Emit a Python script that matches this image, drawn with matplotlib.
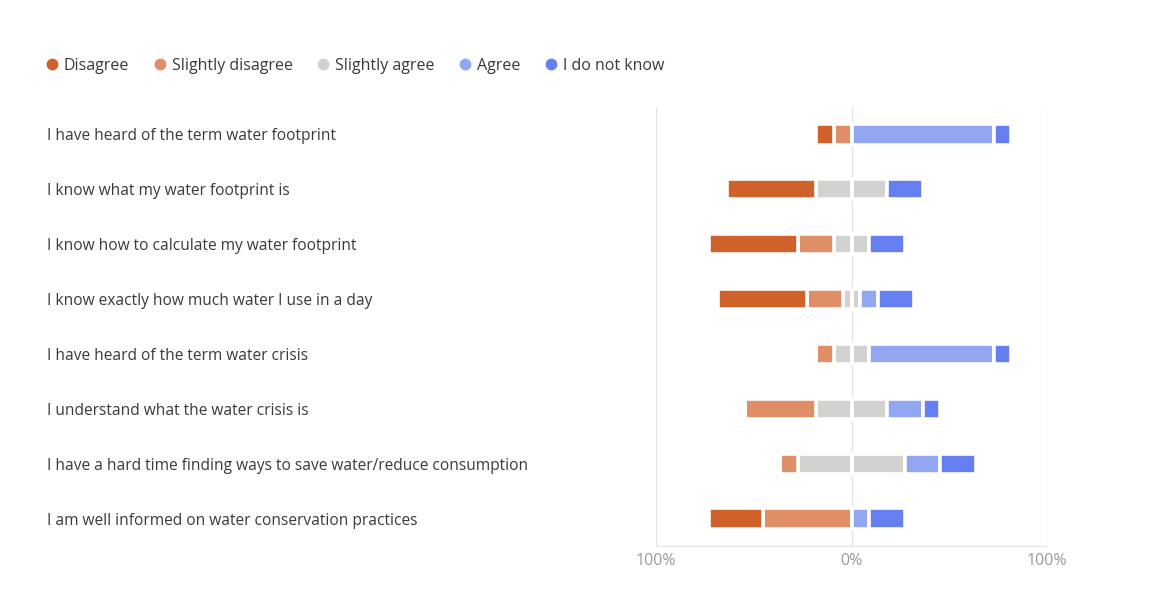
import matplotlib
matplotlib.use("Agg")
import matplotlib.pyplot as plt
from matplotlib.lines import Line2D
import numpy as np

plt.rcParams["font.family"] = ["Open Sans", "DejaVu Sans"]

# survey answers, counts per statement (11 respondents)
statements = [
    "I have heard of the term water footprint",
    "I know what my water footprint is",
    "I know how to calculate my water footprint",
    "I know exactly how much water I use in a day",
    "I have heard of the term water crisis",
    "I understand what the water crisis is",
    "I have a hard time finding ways to save water/reduce consumption",
    "I am well informed on water conservation practices",
]
disagree = [1, 5, 5, 5, 0, 0, 0, 3]
slightly_disagree = [1, 0, 2, 2, 1, 4, 1, 5]
slightly_agree = [0, 4, 2, 1, 2, 4, 6, 0]
agree = [8, 0, 0, 1, 7, 2, 2, 1]
do_not_know = [1, 2, 2, 2, 1, 1, 2, 2]
respondents = 11

series_names = ["Disagree", "Slightly disagree", "Slightly agree", "Agree", "I do not know"]
colors = ["#D0612A", "#E08E66", "#D2D2D0", "#92A6F2", "#657FF0"]

tick_vals = [-100, 0, 100]
tick_labels = ["100%", "0%", "100%"]

W, H = 1172, 603
fig = plt.figure(figsize=(W / 100, H / 100), dpi=100)
ax = fig.add_axes([656 / W, 1 - 546 / H, (1047 - 656) / W, (546 - 107) / H])


def pct(vals):
    return np.array(vals) / respondents * 100


d = pct(disagree)
sd = pct(slightly_disagree)
sa = pct(slightly_agree) / 2
a = pct(agree)
idk = pct(do_not_know)

y = np.arange(len(statements))
bar_h = 0.37
style = dict(height=bar_h, edgecolor="white", linewidth=2.6, zorder=3)

# left side, from the centre outwards
ax.barh(y, sa, left=-sa, color=colors[2], **style)
ax.barh(y, sd, left=-sa - sd, color=colors[1], **style)
ax.barh(y, d, left=-sa - sd - d, color=colors[0], **style)
# right side
ax.barh(y, sa, left=0, color=colors[2], **style)
ax.barh(y, a, left=sa, color=colors[3], **style)
ax.barh(y, idk, left=sa + a, color=colors[4], **style)

ax.set_xlim(-100, 100)
ax.set_ylim(len(statements) - 0.5, -0.5)
ax.set_xticks(tick_vals)
ax.set_xticklabels(tick_labels, color="#9a9a9a", fontsize=11.5)
ax.grid(axis="x", color="#e4e4e4", linewidth=1, zorder=0)
ax.tick_params(axis="x", length=0, pad=5)

ax.set_yticks(y)
ax.set_yticklabels(statements, color="#3a3a3a", fontsize=11.2, va="center_baseline")
ax.tick_params(axis="y", length=0, pad=(656 - 47) * 0.72)
for lbl in ax.get_yticklabels():
    lbl.set_horizontalalignment("left")

for side in ["top", "left", "right"]:
    ax.spines[side].set_visible(False)
ax.spines["bottom"].set_color("#e4e4e4")
ax.spines["bottom"].set_linestyle((0, (1, 1)))

handles = [
    Line2D([], [], marker="o", linestyle="none", markersize=7.5,
           markerfacecolor=c, markeredgecolor=c)
    for c in colors
]
fig.legend(handles, series_names, loc="center left",
           bbox_to_anchor=(40 / W, 1 - 66 / H), ncol=5, frameon=False,
           fontsize=11.5, handlelength=0.7, handletextpad=0.4,
           columnspacing=1.55, labelcolor="#3a3a3a", borderaxespad=0)

fig.savefig("out.png", dpi=100)
